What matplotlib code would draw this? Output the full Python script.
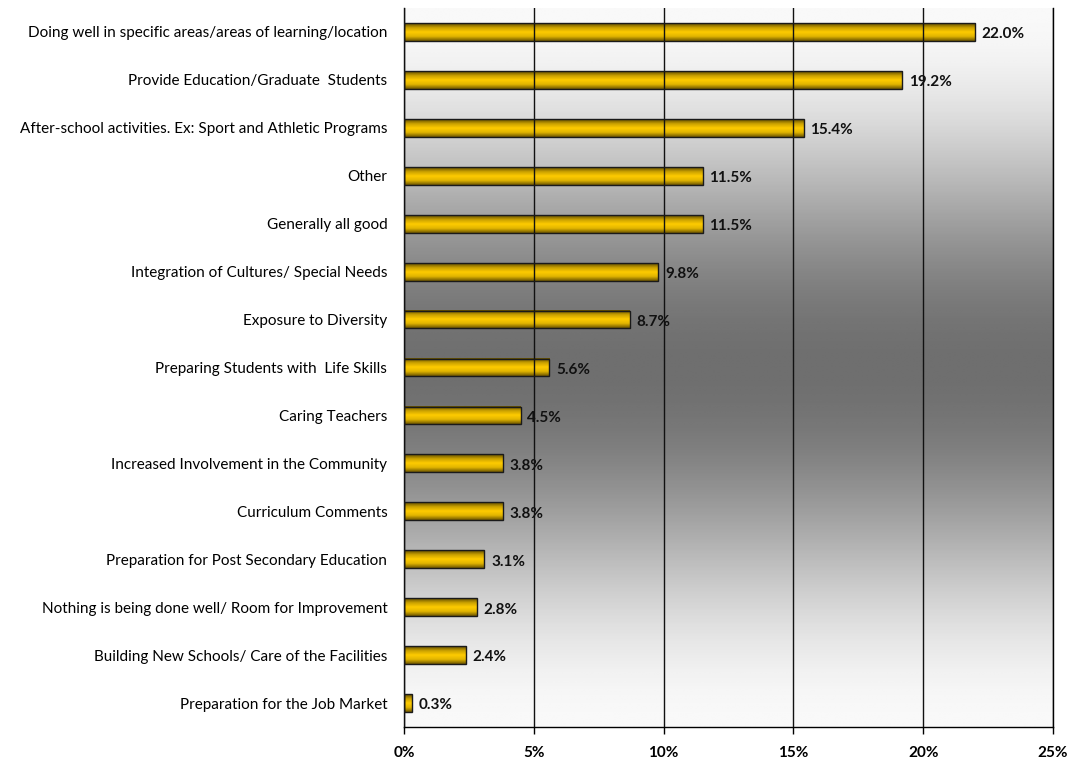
import numpy as np
import matplotlib
matplotlib.use("Agg")
import matplotlib.pyplot as plt
from matplotlib.colors import LinearSegmentedColormap

# ── Data ────────────────────────────────────────────────────────────────
CATEGORIES = [
    "Doing well in specific areas/areas of learning/location",
    "Provide Education/Graduate  Students",
    "After-school activities. Ex: Sport and Athletic Programs",
    "Other",
    "Generally all good",
    "Integration of Cultures/ Special Needs",
    "Exposure to Diversity",
    "Preparing Students with  Life Skills",
    "Caring Teachers",
    "Increased Involvement in the Community",
    "Curriculum Comments",
    "Preparation for Post Secondary Education",
    "Nothing is being done well/ Room for Improvement",
    "Building New Schools/ Care of the Facilities",
    "Preparation for the Job Market",
]
PERCENTS = [22.0, 19.2, 15.4, 11.5, 11.5, 9.8, 8.7, 5.6, 4.5, 3.8, 3.8, 3.1, 2.8, 2.4, 0.3]
X_TICKS = [0, 5, 10, 15, 20, 25]

plt.rcParams["font.family"] = ["Lato", "DejaVu Sans"]

fig = plt.figure(figsize=(10.73, 7.63), dpi=100)
ax = fig.add_axes([0.3765, 0.0472, 0.6049, 0.9423])

y = np.arange(len(CATEGORIES))
ax.set_xlim(0, 25)
ax.set_ylim(len(CATEGORIES) - 0.5, -0.5)

# plot-area background: light at top and bottom, dark grey in the middle
t = np.linspace(0, 1, 256)
shade = 0.975 - 0.54 * (1 - np.cos(2 * np.pi * t)) / 2
bg = np.repeat(shade[:, None], 2, axis=1)
ax.imshow(bg, cmap="gray", vmin=0, vmax=1, aspect="auto",
          extent=[0, 25, len(CATEGORIES) - 0.5, -0.5], zorder=0, interpolation="bilinear")

# gold bars with a vertical sheen
gold = LinearSegmentedColormap.from_list(
    "gold", [(0.0, "#5e4a00"), (0.25, "#c9a000"), (0.5, "#ffcc00"), (0.75, "#e0b400"), (1.0, "#6e5600")])
grad = np.linspace(0, 1, 64)[:, None]
bars = ax.barh(y, PERCENTS, height=0.37, color="none", edgecolor="#1a1a1a", linewidth=1.0, zorder=3)
for bar, pct in zip(bars, PERCENTS):
    x0, y0 = bar.get_x(), bar.get_y()
    w, h = bar.get_width(), bar.get_height()
    ax.imshow(grad, cmap=gold, aspect="auto", extent=[x0, x0 + w, y0 + h, y0],
              zorder=2, interpolation="bilinear")
    ax.text(x0 + w + 0.25, y0 + h / 2 + 0.05, f"{pct:.1f}%", va="center", ha="left",
            fontsize=11, fontweight="bold", color="#111111", zorder=4)

ax.set_xticks(X_TICKS)
ax.set_xticklabels([f"{v}%" for v in X_TICKS], fontsize=11, fontweight="bold")
ax.set_yticks(y)
ax.set_yticklabels(CATEGORIES, fontsize=11)
ax.tick_params(axis="y", length=0, pad=12)
ax.tick_params(axis="x", length=5, width=1, direction="out", pad=9)
ax.xaxis.grid(True, color="#111111", linewidth=1.0, zorder=1)
ax.set_axisbelow(False)
for ln in ax.get_xgridlines():
    ln.set_zorder(1)
ax.spines["top"].set_visible(False)
ax.spines["right"].set_linewidth(1.0)
ax.spines["left"].set_linewidth(1.0)
ax.spines["bottom"].set_linewidth(1.0)

fig.savefig("out.png", dpi=100)
